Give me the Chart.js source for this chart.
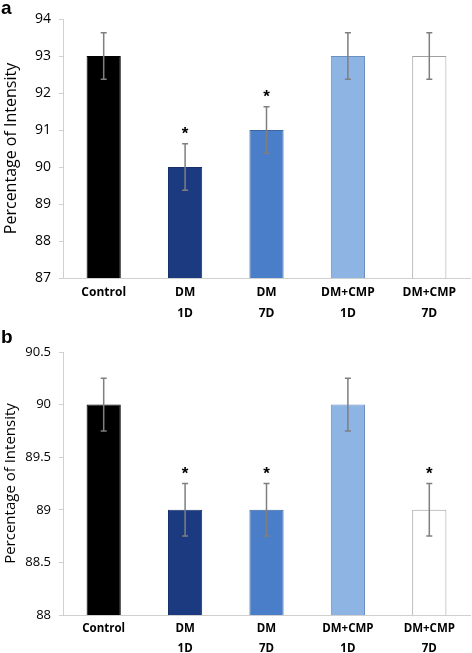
<!DOCTYPE html>
<html>
<head>
<meta charset="utf-8">
<script src="https://cdn.jsdelivr.net/npm/chart.js@4.4.1/dist/chart.umd.min.js"></script>
<style>
  html, body { margin: 0; padding: 0; background: #fff; }
  body { width: 472px; height: 653px; position: relative; overflow: hidden; font-family: "Open Sans", sans-serif; }
  canvas { position: absolute; left: 0; }
  .tag { position: absolute; left: 1px; font: bold 19px "Liberation Sans", Arial, sans-serif; color: #000; }
</style>
</head>
<body>
<canvas id="chartA" width="472" height="323" style="top:0"></canvas>
<canvas id="chartB" width="472" height="330" style="top:323px"></canvas>
<div class="tag" style="top:-3px">a</div>
<div class="tag" style="top:326px">b</div>
<script>
// ---------- DATA ----------
const categories = [["Control"], ["DM", "1D"], ["DM", "7D"], ["DM+CMP", "1D"], ["DM+CMP", "7D"]];

const valuesA = [93, 90, 91, 93, 93];
const errA = [0.63, 0.63, 0.63, 0.63, 0.63];
const sigA = [false, true, true, false, false];

const valuesB = [90, 89, 89, 90, 89];
const errB = [0.25, 0.25, 0.25, 0.25, 0.25];
const sigB = [false, true, true, false, true];

const fillColors = ["#000000", "#1c3a80", "#4a7ec8", "#8db4e3", "#ffffff"];
const edgeColors = ["#000000", "#15306a", "#3a68a4", "#6a8fc0", "#a0a0a0"];

// ---------- error bars + asterisks ----------
const errPlugin = {
  id: "errPlugin",
  afterDatasetsDraw(chart, args, opts) {
    const ctx = chart.ctx;
    const meta = chart.getDatasetMeta(0);
    const y = chart.scales.y;
    ctx.save();
    meta.data.forEach((bar, i) => {
      const v = opts.values[i], e = opts.errors[i];
      const top = y.getPixelForValue(v + e);
      const bot = y.getPixelForValue(v - e);
      ctx.strokeStyle = "#7f7f7f";
      ctx.lineWidth = 1.5;
      ctx.beginPath();
      ctx.moveTo(bar.x, top); ctx.lineTo(bar.x, bot);
      ctx.moveTo(bar.x - 3, top); ctx.lineTo(bar.x + 3, top);
      ctx.moveTo(bar.x - 3, bot); ctx.lineTo(bar.x + 3, bot);
      ctx.stroke();
      if (opts.sig[i]) {
        ctx.fillStyle = "#000";
        ctx.font = "bold 17px 'Liberation Sans', sans-serif";
        ctx.textAlign = "center";
        ctx.textBaseline = "middle";
        ctx.fillText("*", bar.x, top - 9);
      }
    });
    ctx.restore();
  }
};

function makeChart(id, values, errors, sig, yMin, yMax, step, padTop, sizes) {
  return new Chart(document.getElementById(id), {
    type: "bar",
    data: {
      labels: categories,
      datasets: [{
        data: values,
        backgroundColor: fillColors,
        borderColor: edgeColors,
        borderWidth: 1,
        barPercentage: 0.42,
        categoryPercentage: 1
      }]
    },
    options: {
      responsive: false,
      animation: false,
      devicePixelRatio: 1,
      layout: { padding: { top: padTop, right: 2, left: 0, bottom: 0 } },
      plugins: {
        legend: { display: false },
        tooltip: { enabled: false },
        errPlugin: { values: values, errors: errors, sig: sig }
      },
      scales: {
        x: {
          afterFit: (s) => { s.height = sizes.xh; },
          grid: { display: false, drawTicks: false },
          border: { display: true, color: "#d0d0d0", width: 1 },
          ticks: {
            color: "#000",
            padding: 4,
            maxRotation: 0,
            font: { family: "Open Sans", size: sizes.xf, weight: "bold", lineHeight: 1.75 }
          }
        },
        y: {
          min: yMin,
          max: yMax,
          afterFit: (s) => { s.width = 63; },
          grid: { drawOnChartArea: false, drawTicks: true, tickLength: 4, color: "#d0d0d0" },
          border: { display: true, color: "#d0d0d0", width: 1 },
          ticks: {
            stepSize: step,
            color: "#000",
            padding: 8,
            font: { family: "Open Sans", size: sizes.yf },
            callback: (v) => String(Number(v))
          },
          title: {
            display: true,
            text: "Percentage of Intensity",
            color: "#000",
            padding: { top: 2, bottom: 2 },
            font: { family: "Open Sans", size: sizes.tf }
          }
        }
      }
    },
    plugins: [errPlugin]
  });
}

makeChart("chartA", valuesA, errA, sigA, 87, 94, 1, 19, { xh: 45, xf: 12, yf: 14, tf: 16 });
makeChart("chartB", valuesB, errB, sigB, 88, 90.5, 0.5, 29, { xh: 38, xf: 11.5, yf: 13, tf: 15 });
</script>
</body>
</html>
